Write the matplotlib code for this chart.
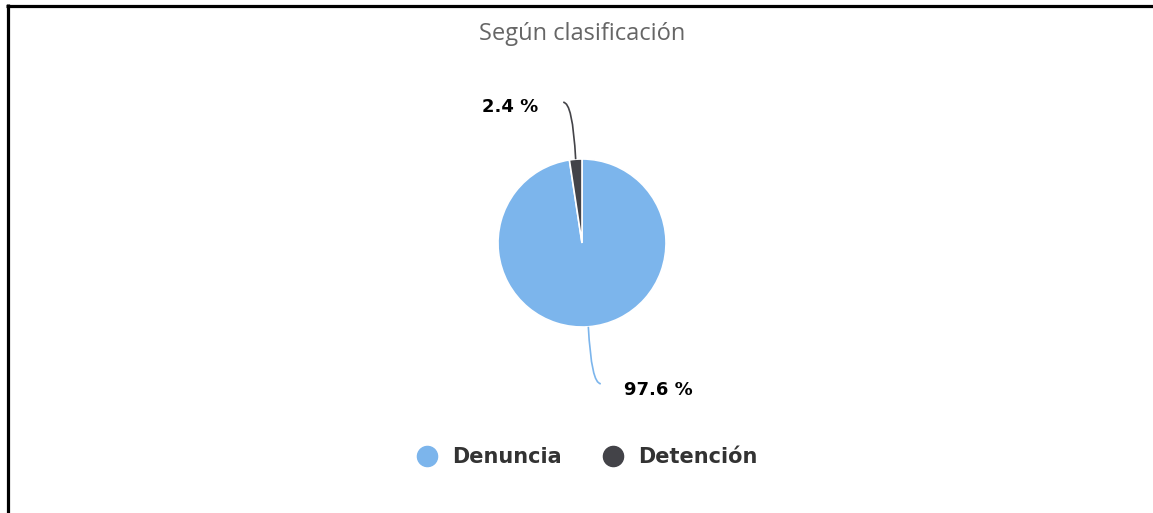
import numpy as np
import matplotlib
matplotlib.use("Agg")
import matplotlib.pyplot as plt
from matplotlib.lines import Line2D
from matplotlib.path import Path
from matplotlib.patches import PathPatch

# ---- data ----
categories = ["Denuncia", "Detención"]
values = [97.6, 2.4]
value_labels = ["97.6 %", "2.4 %"]
colors = ["#7cb5ec", "#434348"]
title = "Según clasificación"

W, H = 1153, 513
fig = plt.figure(figsize=(W / 100, H / 100), dpi=100)
fig.patch.set_facecolor("white")
ax = fig.add_axes([0, 0, 1, 1])

cx, cy, r = 582, H - 243, 84
wedges, _ = ax.pie(values, colors=colors, startangle=90, counterclock=False,
                   center=(cx, cy), radius=r, frame=True,
                   wedgeprops=dict(edgecolor="white", linewidth=1.2))
ax.set_xlim(0, W)
ax.set_ylim(0, H)
ax.set_aspect("equal")
ax.axis("off")

# connectors + labels
for w, lab, col in zip(wedges, value_labels, colors):
    mid = np.deg2rad((w.theta1 + w.theta2) / 2)
    sx, sy = cx + r * np.cos(mid), cy + r * np.sin(mid)
    side = 1 if np.cos(mid) >= 0 else -1
    vert = 1 if np.sin(mid) >= 0 else -1
    ey = sy + vert * 57
    ex = sx + side * 12.5
    ctrl = (sx + side * 3.0, ey)
    path = Path([(sx, sy), ctrl, (ex, ey)], [Path.MOVETO, Path.CURVE3, Path.CURVE3])
    ax.add_patch(PathPatch(path, fill=False, edgecolor=col, linewidth=1.2))
    if side < 0:
        ax.text(ex - 25, ey - 5, lab, ha="right", va="center", fontsize=13,
                fontweight="bold", family="DejaVu Sans", color="#000000")
    else:
        ax.text(ex + 23, ey - 6, lab, ha="left", va="center", fontsize=13,
                fontweight="bold", family="DejaVu Sans", color="#000000")

fig.text(582 / W, 1 - 34 / H, title, ha="center", va="center", fontsize=17,
         family="Open Sans", color="#666666")

handles = [Line2D([], [], marker="o", linestyle="none", markersize=14.5,
                  markerfacecolor=c, markeredgecolor=c) for c in colors]
leg = fig.legend(handles, categories, loc="center", bbox_to_anchor=(587 / W, 1 - 457 / H),
                 ncol=2, frameon=False, handletextpad=0.7, columnspacing=2.0,
                 handlelength=1.0, prop=dict(family="DejaVu Sans", weight="bold", size=15))
for t in leg.get_texts():
    t.set_color("#333333")

# border
fig.add_artist(Line2D([6 / W, 1], [1 - 5.5 / H, 1 - 5.5 / H], transform=fig.transFigure,
                      color="black", linewidth=2.3, solid_capstyle="butt"))
fig.add_artist(Line2D([7.5 / W, 7.5 / W], [1 - 4 / H, 0], transform=fig.transFigure,
                      color="black", linewidth=2.3, solid_capstyle="butt"))

fig.savefig("out.png", dpi=100, facecolor="white")
